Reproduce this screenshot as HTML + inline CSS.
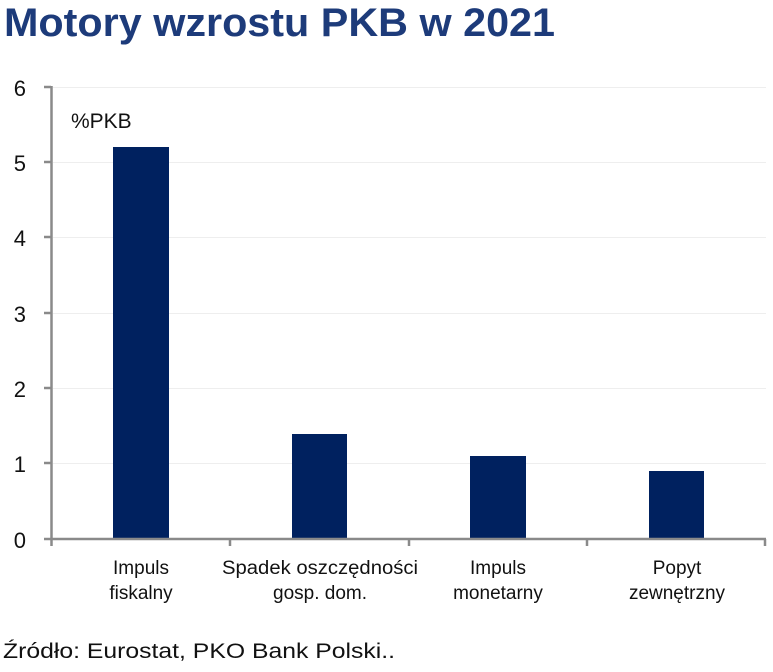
<!DOCTYPE html>
<html><head><meta charset="utf-8"><style>
body{margin:0;background:#fff;width:773px;height:667px;overflow:hidden;font-family:"Liberation Sans",sans-serif}
</style></head><body>
<svg width="773" height="667" xmlns="http://www.w3.org/2000/svg" font-family="Liberation Sans, sans-serif">
<text x="4" y="36" font-size="40" font-weight="bold" fill="#1d3b7a" textLength="551" lengthAdjust="spacingAndGlyphs">Motory wzrostu PKB w 2021</text>
<g stroke="#eeeeee" stroke-width="1">
<line x1="53" x2="766" y1="87.5" y2="87.5"/><line x1="53" x2="766" y1="162.5" y2="162.5"/>
<line x1="53" x2="766" y1="237.5" y2="237.5"/><line x1="53" x2="766" y1="313.5" y2="313.5"/>
<line x1="53" x2="766" y1="388.5" y2="388.5"/><line x1="53" x2="766" y1="463.5" y2="463.5"/>
</g>
<g fill="#00215f">
<rect x="113" y="147" width="56" height="392"/>
<rect x="292" y="434" width="55" height="105"/>
<rect x="470" y="456" width="56" height="83"/>
<rect x="649" y="471" width="55" height="68"/>
</g>
<g stroke="#8a8a8a" stroke-width="2.5" fill="none">
<line x1="51.5" y1="86" x2="51.5" y2="546"/>
<line x1="44" y1="539" x2="766" y2="539"/>
<line x1="44" y1="87" x2="51" y2="87"/><line x1="44" y1="162" x2="51" y2="162"/>
<line x1="44" y1="237" x2="51" y2="237"/><line x1="44" y1="313" x2="51" y2="313"/>
<line x1="44" y1="388" x2="51" y2="388"/><line x1="44" y1="463" x2="51" y2="463"/>
<line x1="230" y1="539" x2="230" y2="546"/><line x1="409" y1="539" x2="409" y2="546"/>
<line x1="587" y1="539" x2="587" y2="546"/><line x1="765" y1="539" x2="765" y2="546"/>
</g>
<g font-size="22" fill="#111" text-anchor="end">
<text x="26" y="96">6</text><text x="26" y="171">5</text><text x="26" y="246">4</text>
<text x="26" y="322">3</text><text x="26" y="397">2</text><text x="26" y="472">1</text><text x="26" y="548">0</text>
</g>
<text x="71" y="128" font-size="21" fill="#111">%PKB</text>
<g font-size="19" fill="#111" text-anchor="middle">
<text x="141" y="574">Impuls</text><text x="141" y="599">fiskalny</text>
<text x="320" y="574" textLength="196" lengthAdjust="spacingAndGlyphs">Spadek oszczędności</text><text x="320" y="599">gosp. dom.</text>
<text x="498" y="574">Impuls</text><text x="498" y="599">monetarny</text>
<text x="677" y="574">Popyt</text><text x="677" y="599">zewnętrzny</text>
</g>
<text x="3" y="658" font-size="21" fill="#111" textLength="392" lengthAdjust="spacingAndGlyphs">Źródło: Eurostat, PKO Bank Polski..</text>
</svg>
</body></html>
